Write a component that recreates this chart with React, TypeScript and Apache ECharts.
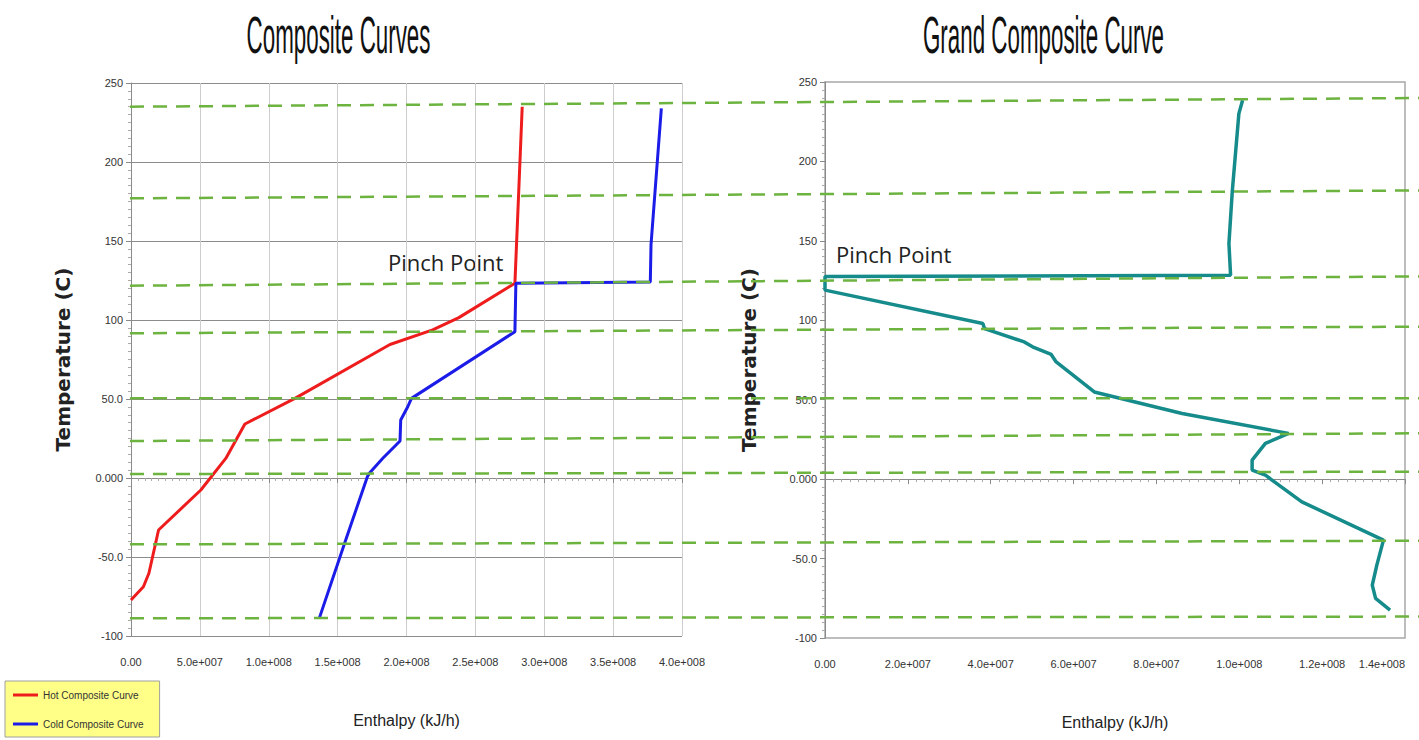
import React, { useEffect, useRef } from "react";
import * as echarts from "echarts";

// ---------- data ----------
// Composite curves (left chart): enthalpy (kJ/h) vs temperature (C)
const hotH = [0, 9e6, 1.3e7, 2.0e7, 5.07e7, 6.88e7, 8.27e7, 1.19e8, 1.88e8, 2.19e8, 2.38e8, 2.787e8, 2.815e8, 2.84e8];
const hotT = [-77.2, -68.8, -60.3, -32.9, -7.6, 12.4, 34.2, 50.4, 84.5, 93.7, 101.5, 123.2, 182, 235];

const coldH = [1.369e8, 1.55e8, 1.716e8, 1.73e8, 1.828e8, 1.953e8, 1.958e8, 2.009e8, 2.036e8, 2.787e8, 2.794e8, 3.77e8, 3.775e8, 3.85e8];
const coldT = [-88.2, -41.4, 0.8, 3, 12.5, 23.4, 36.7, 45.1, 50.4, 92.6, 123.2, 124, 147.5, 234];

// Grand composite curve (right chart)
const gccH = [1.008e8, 0.999e8, 0.983e8, 0.975e8, 0.979e8, 0, 0, 3.81e7, 3.85e7, 4.81e7, 5.01e7, 5.46e7, 5.58e7, 6.5e7, 8.62e7, 1.119e8, 1.063e8, 1.031e8, 1.031e8, 1.063e8, 1.151e8, 1.348e8, 1.332e8, 1.321e8, 1.329e8, 1.364e8];
const gccT = [238.5, 230.1, 180.8, 148.3, 128.4, 127.5, 119, 98, 94.8, 86.4, 83.3, 78.5, 73.8, 54.9, 41.3, 28.8, 22.5, 12, 5.7, 2.5, -14.3, -38.4, -54.1, -66.7, -75.1, -82.4];

// Temperature interval lines (green dashed): temperature at left end and right end
const intervalLeftT = [235, 177, 121.7, 91.6, 50.4, 23.4, 2.5, -42, -88.8];
const intervalRightT = [240.5, 182, 127.6, 95.8, 50.4, 28.3, 4, -39.7, -87.7];

// tick labels
const yTickLabels = ["-100", "-50.0", "0.000", "50.0", "100", "150", "200", "250"];
const xLeftTickLabels = ["0.00", "5.0e+007", "1.0e+008", "1.5e+008", "2.0e+008", "2.5e+008", "3.0e+008", "3.5e+008", "4.0e+008"];
const xRightTickLabels = ["0.00", "2.0e+007", "4.0e+007", "6.0e+007", "8.0e+007", "1.0e+008", "1.2e+008", "1.4e+008"];

const seriesNames = ["Hot Composite Curve", "Cold Composite Curve"];
const titles = ["Composite Curves", "Grand Composite Curve"];

const SANS = "'Liberation Sans', Arial, sans-serif";

function zip(a: number[], b: number[]) {
  return a.map((v, i) => [v, b[i]]);
}

export default function App() {
  const ref = useRef<HTMLDivElement>(null);

  useEffect(() => {
    if (!ref.current) return;
    const chart = echarts.init(ref.current, undefined, { renderer: "svg" });

    const axisLine = { show: true, lineStyle: { color: "#8a8a8a", width: 1 } };
    const labelStyle = { color: "#333", fontFamily: SANS, fontSize: 11 };

    const makeX = (grid: number, max: number, interval: number, labels: string[], split: boolean, alignMax: string) => ({
      type: "value",
      gridIndex: grid,
      min: 0,
      max,
      interval,
      name: "Enthalpy (kJ/h)",
      nameLocation: "middle",
      nameGap: 76,
      nameTextStyle: { color: "#222", fontFamily: SANS, fontSize: 16 },
      axisLine,
      axisTick: { show: true, length: 5, lineStyle: { color: "#8a8a8a" } },
      minorTick: { show: true, splitNumber: 10, length: 3, lineStyle: { color: "#aaa" } },
      axisLabel: {
        ...labelStyle,
        margin: 20,
        showMaxLabel: true,
        alignMaxLabel: alignMax,
        formatter: (v: number) => labels[Math.round(v / interval)] ?? "",
      },
      splitLine: { show: split, lineStyle: { color: "#cdcdcd", width: 1 } },
    });

    const makeY = (grid: number, split: boolean, nameGap: number) => ({
      type: "value",
      gridIndex: grid,
      min: -100,
      max: 250,
      interval: 50,
      name: "Temperature (C)",
      nameLocation: "middle",
      nameRotate: 90,
      nameGap,
      nameTextStyle: { color: "#222", fontFamily: "'DejaVu Sans', sans-serif", fontSize: 20, fontWeight: "bold" },
      axisLine,
      axisTick: { show: true, length: 5, lineStyle: { color: "#8a8a8a" } },
      minorTick: { show: true, splitNumber: 10, length: 3, lineStyle: { color: "#aaa" } },
      axisLabel: {
        ...labelStyle,
        margin: 8,
        formatter: (v: number) => yTickLabels[Math.round((v + 100) / 50)] ?? "",
      },
      splitLine: { show: split, lineStyle: { color: "#8c8c8c", width: 1 } },
    });

    const dashSeries = intervalLeftT.map((lt, i) => ({
      type: "line",
      name: "interval" + i,
      xAxisIndex: 2,
      yAxisIndex: 2,
      data: [
        [0, lt],
        [1, intervalRightT[i]],
      ],
      symbol: "none",
      silent: true,
      z: 5,
      lineStyle: { color: "#6db33f", width: 2.5, type: [14, 9] },
    }));

    const option: any = {
      animation: false,
      backgroundColor: "#ffffff",
      grid: [
        { left: 131, top: 83, width: 551, height: 553, show: false, outerBoundsMode: "none", containLabel: false },
        { left: 825, top: 82, width: 580, height: 556, show: true, borderColor: "#a8a8a8", borderWidth: 1.5, backgroundColor: "transparent", outerBoundsMode: "none", containLabel: false },
        { left: 130, top: 83, right: 0, height: 553, show: false, outerBoundsMode: "none", containLabel: false },
      ],
      xAxis: [
        makeX(0, 4e8, 5e7, xLeftTickLabels, true, "center"),
        makeX(1, 1.4e8, 2e7, xRightTickLabels, false, "right"),
        { type: "value", gridIndex: 2, min: 0, max: 1, show: false },
      ],
      yAxis: [
        makeY(0, true, 58),
        makeY(1, false, 66),
        { type: "value", gridIndex: 2, min: -100, max: 250, show: false },
      ],
      legend: {
        data: seriesNames,
        orient: "vertical",
        left: 5,
        top: 681,
        padding: [9, 16, 8, 8],
        itemGap: 19,
        itemWidth: 25,
        itemHeight: 3,
        icon: "rect",
        backgroundColor: "#ffff88",
        borderColor: "#a0a0a0",
        borderWidth: 1,
        textStyle: { color: "#333", fontFamily: SANS, fontSize: 10 },
      },
      series: [
        {
          type: "line",
          name: seriesNames[0],
          xAxisIndex: 0,
          yAxisIndex: 0,
          data: zip(hotH, hotT),
          symbol: "none",
          z: 3,
          lineStyle: { color: "#ee1c1c", width: 3 },
          itemStyle: { color: "#ee1c1c" },
        },
        {
          type: "line",
          name: seriesNames[1],
          xAxisIndex: 0,
          yAxisIndex: 0,
          data: zip(coldH, coldT),
          symbol: "none",
          z: 3,
          lineStyle: { color: "#1c1ce8", width: 3 },
          itemStyle: { color: "#1c1ce8" },
        },
        {
          type: "line",
          name: "Grand Composite Curve",
          xAxisIndex: 1,
          yAxisIndex: 1,
          data: zip(gccH, gccT),
          symbol: "none",
          z: 3,
          lineStyle: { color: "#168b8b", width: 3.5 },
          itemStyle: { color: "#168b8b" },
        },
        ...dashSeries,
      ],
      graphic: [
        {
          type: "text",
          x: 338.5,
          y: 35,
          scaleX: 0.43,
          style: { text: titles[0], fontSize: 52, fontFamily: SANS, fill: "#111", align: "center", verticalAlign: "middle" },
        },
        {
          type: "text",
          x: 1043.5,
          y: 35,
          scaleX: 0.43,
          style: { text: titles[1], fontSize: 52, fontFamily: SANS, fill: "#111", align: "center", verticalAlign: "middle" },
        },
        {
          type: "text",
          x: 388,
          y: 262,
          style: { text: "Pinch Point", fontSize: 22, fontFamily: "'Open Sans', sans-serif", fill: "#222", align: "left", verticalAlign: "middle" },
        },
        {
          type: "text",
          x: 836,
          y: 254,
          style: { text: "Pinch Point", fontSize: 22, fontFamily: "'Open Sans', sans-serif", fill: "#222", align: "left", verticalAlign: "middle" },
        },
      ],
    };

    chart.setOption(option);
    return () => chart.dispose();
  }, []);

  return (
    <div
      ref={ref}
      style={{ position: "fixed", left: 0, top: 0, width: 1419, height: 740, background: "#fff" }}
    />
  );
}
